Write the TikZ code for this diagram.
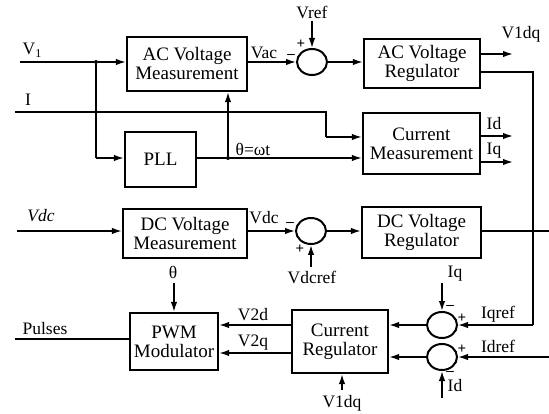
\documentclass[tikz,border=0pt]{standalone}
\usepackage{fontspec}
\setmainfont{Liberation Serif}
\usetikzlibrary{arrows.meta,shapes.geometric}
\begin{document}
\begin{tikzpicture}[x=1pt,y=-1pt,
  blk/.style={draw,line width=2.2pt,rectangle,inner sep=0pt,align=center,font=\fontsize{19}{19}\selectfont},
  sumj/.style={draw,line width=2pt,ellipse,minimum width=30pt,minimum height=26pt,inner sep=0pt},
  wire/.style={line width=1.6pt},
  arr/.style={wire,-{Latex[length=10pt,width=6.5pt]}},
  lbl/.style={font=\fontsize{17.5}{18}\selectfont,inner sep=0pt},
  sgn/.style={font=\fontsize{15}{15}\selectfont\bfseries,inner sep=0pt},
  dot/.style={circle,fill,inner sep=0pt,minimum size=4pt}]
\useasboundingbox (0,0) rectangle (549,414);
% blocks
\node[blk,minimum width=120pt,minimum height=54pt] (acm) at (187,64) {AC Voltage\\Measurement};
\node[blk,minimum width=71pt,minimum height=55pt] (pll) at (160.5,159.5) {PLL};
\node[blk,minimum width=124pt,minimum height=49pt] (dcm) at (185,233.5) {DC Voltage\\Measurement};
\node[blk,minimum width=88pt,minimum height=57pt] (pwm) at (174,341.5) {PWM\\Modulator};
\node[blk,minimum width=116pt,minimum height=49pt] (acr) at (422,63.5) {AC Voltage\\Regulator};
\node[blk,minimum width=117pt,minimum height=61pt] (cm) at (421.5,143.5) {Current\\Measurement};
\node[blk,minimum width=119pt,minimum height=51pt] (dcr) at (421.5,232.5) {DC Voltage\\Regulator};
\node[blk,minimum width=96pt,minimum height=63pt] (cr) at (340,341.5) {Current\\Regulator};
% summing junctions
\node[sumj] (s1) at (312,62) {};
\node[sumj] (s2) at (311,231) {};
\node[sumj] (s3) at (442,325) {};
\node[sumj] (s4) at (442,357) {};
% coordinates
\coordinate (v1in) at (20,62);
\node[dot] (j1) at (96,62) {};
\coordinate (j1b) at (96,158);
\coordinate (iin) at (15,112);
\coordinate (ic1) at (326,112);
\coordinate (ic2) at (326,137);
\node[dot] (j2) at (228,158) {};
\coordinate (vref) at (312,21);
\coordinate (v1dqo) at (513,54);
\coordinate (fb1) at (533,72);
\coordinate (fb2) at (533,325);
\coordinate (ido) at (513,136);
\coordinate (iqo) at (513,162);
\coordinate (vdcin) at (17,231);
\coordinate (vdcref) at (311,267);
\coordinate (dcro) at (549,231);
\coordinate (thin) at (174,283);
\coordinate (pulse) at (15,339);
\coordinate (iqin) at (442,283);
\coordinate (idref) at (549,357);
\coordinate (idin) at (442,398);
\coordinate (v1dqin) at (342,390);
% connectors
\draw[wire] (v1in) -- (j1);
\draw[arr] (j1) -- (acm.west |- j1);
\draw[wire] (j1) -- (j1b);
\draw[arr] (j1b) -- (pll.west |- j1b);
\draw[wire] (iin) -- (ic1) -- (ic2);
\draw[arr] (ic2) -- (cm.west |- ic2);
\draw[wire] (pll.east |- j2) -- (j2);
\draw[arr] (j2) -- (cm.west |- j2);
\draw[arr] (j2) -- (acm.south -| j2);
\draw[arr] (acm.east |- s1) -- (s1.west);
\draw[arr] (vref) -- (s1.north);
\draw[arr] (s1.east) -- (acr.west |- s1);
\draw[arr] (acr.east |- v1dqo) -- (v1dqo);
\draw[wire] (acr.east |- fb1) -- (fb1) -- (fb2);
\draw[arr] (fb2) -- (s3.east);
\draw[arr] (cm.east |- ido) -- (ido);
\draw[arr] (cm.east |- iqo) -- (iqo);
\draw[arr] (vdcin) -- (dcm.west |- vdcin);
\draw[arr] (dcm.east |- s2) -- (s2.west);
\draw[arr] (vdcref) -- (s2.south);
\draw[arr] (s2.east) -- (dcr.west |- s2);
\draw[wire] (dcr.east |- dcro) -- (dcro);
\draw[arr] (thin) -- (pwm.north -| thin);
\draw[wire] (pwm.west |- pulse) -- (pulse);
\draw[arr] (cr.west |- s3) -- (pwm.east |- s3);
\draw[arr] (cr.west |- 0,353) -- (pwm.east |- 0,353);
\draw[arr] (s3.west) -- (cr.east |- s3);
\draw[arr] (s4.west) -- (cr.east |- s4);
\draw[arr] (iqin) -- (s3.north);
\draw[arr] (idref) -- (s4.east);
\draw[arr] (idin) -- (s4.south);
\draw[arr] (v1dqin) -- (cr.south -| v1dqin);
% labels
\node[lbl] (lv1) at (32,50) {V\raisebox{-3pt}{\fontsize{12}{12}\selectfont 1}};
\node[lbl] (li) at (28,100) {I};
\node[lbl] (lvdc) at (41,216) {\itshape Vdc};
\node[lbl] (lpul) at (45,329) {Pulses};
\node[lbl] (lvac) at (264,53) {Vac};
\node[sgn] (m1) at (291,56) {--};
\node[sgn] (p1) at (301,44) {+};
\node[lbl] (lvref) at (312,12) {Vref};
\node[lbl] (lth) at (253,149) {θ=ωt};
\node[lbl] (lv1dq) at (521,34) {V1dq};
\node[lbl] (lid) at (494,124) {Id};
\node[lbl] (liq) at (494,151) {Iq};
\node[lbl] (lvdc2) at (264,218) {Vdc};
\node[sgn] (m2) at (290,224) {--};
\node[sgn] (p2) at (300,249) {+};
\node[lbl] (lvdcref) at (312,277) {Vdcref};
\node[lbl] (lth2) at (173,272) {θ};
\node[lbl] (lv2d) at (253,315) {V2d};
\node[lbl] (lv2q) at (253,343) {V2q};
\node[lbl] (liq2) at (455,274) {Iq};
\node[sgn] (m3) at (450,307) {--};
\node[sgn] (p3) at (462,318) {+};
\node[lbl] (liqref) at (498,314) {Iqref};
\node[sgn] (p4) at (462,349) {+};
\node[lbl] (lidref) at (498,346) {Idref};
\node[sgn] (m4) at (450,373) {--};
\node[lbl] (lid2) at (455,386) {Id};
\node[lbl] (lv1dq2) at (342,403) {V1dq};
\end{tikzpicture}
\end{document}
